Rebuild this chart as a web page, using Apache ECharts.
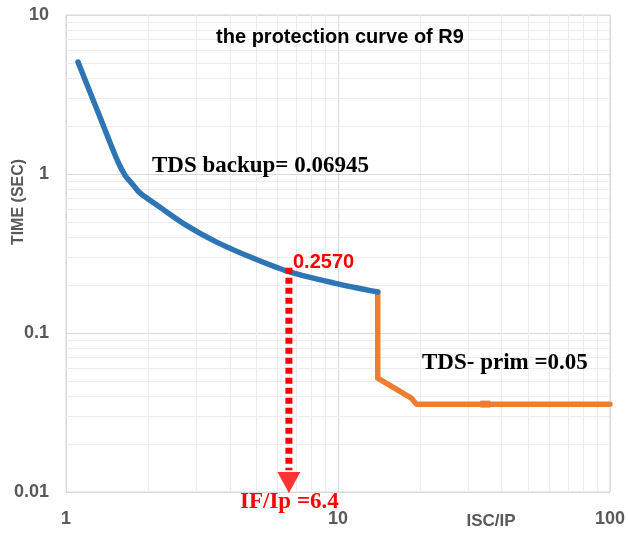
<!DOCTYPE html>
<html>
<head>
<meta charset="utf-8">
<script src="https://cdn.jsdelivr.net/npm/echarts@6/dist/echarts.min.js"></script>
<style>html,body{margin:0;padding:0;background:#fff;}#c{width:628px;height:533px;}</style>
</head>
<body>
<div id="c"></div>
<script>
// Backup relay curve (blue)
const backupX = [1.107, 1.333, 1.55, 1.65, 1.76, 1.87, 2.21, 2.8, 3.58, 4.86, 6.64, 9.7, 14.0];
const backupY = [5.06, 2.28, 1.2, 0.98, 0.86, 0.76, 0.62, 0.47, 0.373, 0.296, 0.242, 0.206, 0.181];
// Primary relay curve (orange)
const primX = [14.0, 14.0, 18.6, 19.4, 34.8, 100];
const primY = [0.181, 0.052, 0.039, 0.0357, 0.0357, 0.0357];
// Marked operating point
const opX = [6.6, 6.6];
const opY = [0.257, 0.0137];
const arrowPoint = [6.6, 0.01148];
// Tick values
const xMajor = [1, 10, 100];
const yMajor = [0.01, 0.1, 1, 10];
const xMinor = [2, 3, 4, 5, 6, 7, 8, 9, 20, 30, 40, 50, 60, 70, 80, 90];
const yMinor = [0.02, 0.03, 0.04, 0.05, 0.06, 0.07, 0.08, 0.09, 0.2, 0.3, 0.4, 0.5, 0.6, 0.7, 0.8, 0.9, 2, 3, 4, 5, 6, 7, 8, 9];

const zip = (a, b) => a.map((v, i) => [v, b[i]]);
const backupData = zip(backupX, backupY);
const primData = zip(primX, primY).map((p, i) => i === 4 ? {value: p, symbol: 'rect', symbolSize: [10, 7]} : {value: p});

const chart = echarts.init(document.getElementById('c'));
const labelStyle = {color: '#595959', fontWeight: 'bold', fontSize: 18, fontFamily: 'Liberation Sans'};
chart.setOption({
  animation: false,
  grid: {left: 66, top: 15, width: 545, height: 477, show: true, borderColor: '#d9d9d9', borderWidth: 1},
  xAxis: {
    type: 'log', logBase: 10, min: 1, max: 100,
    axisLine: {show: false}, axisTick: {show: false},
    axisLabel: Object.assign({margin: 18, formatter: v => String(v)}, labelStyle),
    splitLine: {show: true, lineStyle: {color: '#d9d9d9', width: 1}}
  },
  yAxis: {
    type: 'log', logBase: 10, min: 0.01, max: 10,
    axisLine: {show: false}, axisTick: {show: false},
    axisLabel: Object.assign({margin: 17, formatter: v => String(v)}, labelStyle),
    splitLine: {show: true, lineStyle: {color: '#d9d9d9', width: 1}}
  },
  series: [
    {
      type: 'line', data: [], silent: true, z: 1,
      markLine: {
        silent: true, symbol: 'none', animation: false, z: 0,
        label: {show: false},
        lineStyle: {color: '#ececec', width: 1, type: 'solid'},
        data: xMinor.map(v => ({xAxis: v})).concat(yMinor.map(v => ({yAxis: v})))
      }
    },
    {
      name: 'backup', type: 'line', data: backupData, smooth: 0.3, symbol: 'none', z: 4,
      lineStyle: {color: '#2e75b6', width: 5.5, cap: 'round', join: 'round'}
    },
    {
      name: 'primary', type: 'line', data: primData, symbol: 'none', showSymbol: true, z: 3,
      itemStyle: {color: '#ed7d31'},
      lineStyle: {color: '#ed7d31', width: 5.5, cap: 'round', join: 'round'}
    },
    {
      type: 'line', data: zip(opX, opY), symbol: 'none', z: 5,
      lineStyle: {color: '#ff0000', width: 7, type: [6, 4], cap: 'butt'}
    },
    {
      type: 'scatter', data: [arrowPoint], symbol: 'triangle', symbolRotate: 180, symbolSize: [23, 21], z: 5,
      itemStyle: {color: '#ff0000'}
    }
  ],
  graphic: [
    {type: 'text', z: 100, style: {text: 'the protection curve of R9', x: 340, y: 37, align: 'center', verticalAlign: 'middle', fill: '#000', font: 'bold 20px "Liberation Sans"'}},
    {type: 'text', z: 100, style: {text: 'TDS backup= 0.06945', x: 152, y: 166, verticalAlign: 'middle', fill: '#000', font: 'bold 23px "Liberation Serif"'}},
    {type: 'text', z: 100, style: {text: 'TDS- prim =0.05', x: 422, y: 363, verticalAlign: 'middle', fill: '#000', font: 'bold 23px "Liberation Serif"'}},
    {type: 'text', z: 100, style: {text: '0.2570', x: 293, y: 262, verticalAlign: 'middle', fill: '#ff0000', font: 'bold 20px "Liberation Sans"'}},
    {type: 'text', z: 100, style: {text: 'IF/Ip =6.4', x: 240, y: 502, verticalAlign: 'middle', fill: '#ff0000', font: 'bold 23px "Liberation Serif"'}},
    {type: 'text', z: 100, style: {text: 'ISC/IP', x: 491, y: 521, align: 'center', verticalAlign: 'middle', fill: '#595959', font: 'bold 17px "Liberation Sans"'}},
    {type: 'text', z: 100, x: 19, y: 202, rotation: Math.PI / 2, style: {text: 'TIME (SEC)', x: 0, y: 0, align: 'center', verticalAlign: 'middle', fill: '#595959', font: 'bold 16px "Liberation Sans"'}}
  ]
});
</script>
</body>
</html>
